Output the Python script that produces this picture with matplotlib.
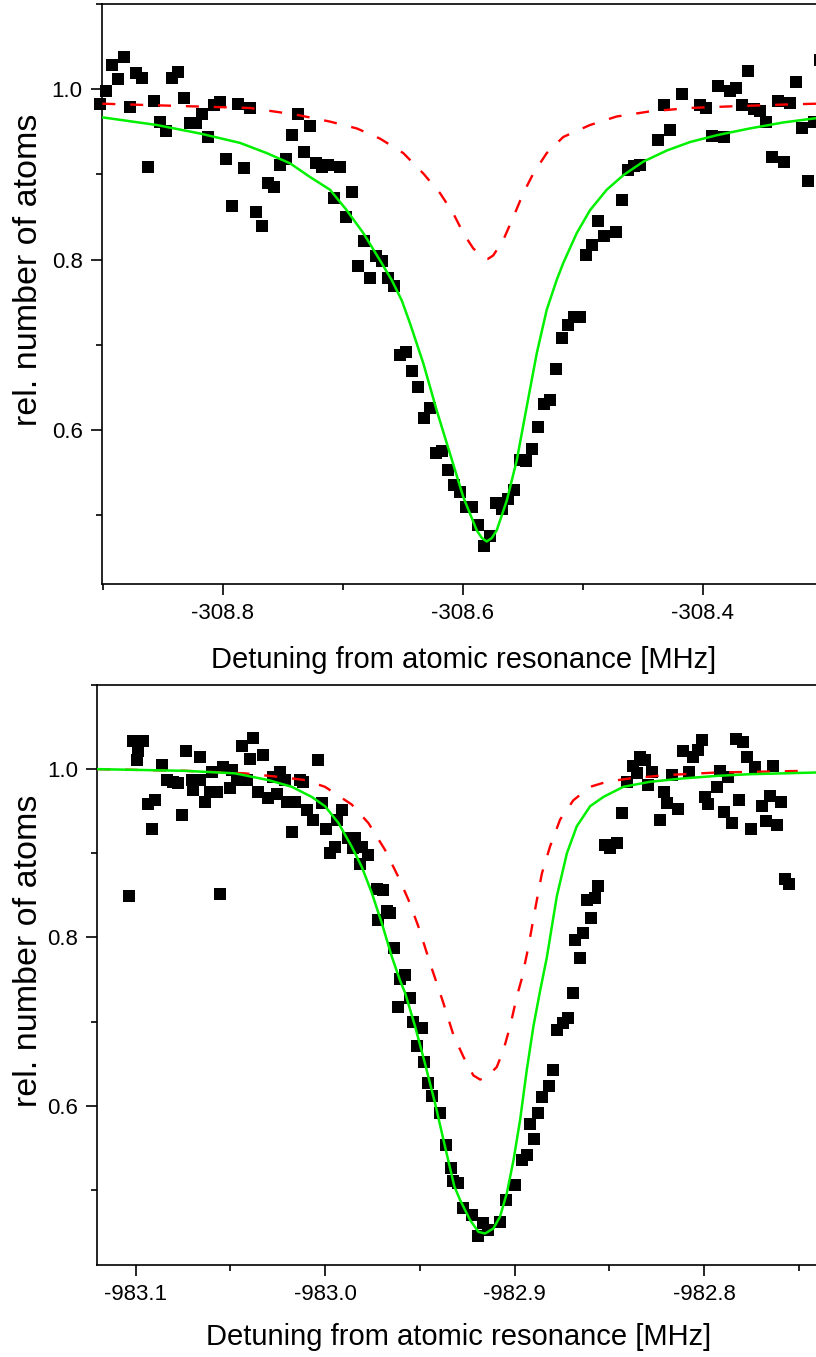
import matplotlib
matplotlib.use('Agg')
import matplotlib.pyplot as plt
from matplotlib.ticker import MultipleLocator, StrMethodFormatter

plt.rcParams['font.family'] = ['Liberation Sans', 'DejaVu Sans']
plt.rcParams['axes.unicode_minus'] = False

# ---- upper scan (around -308.6 MHz) ----
top_detuning = [
    -308.9025, -308.8975, -308.8925, -308.8875, -308.8825, -308.8775, -308.8725, -308.8675,
    -308.8625, -308.8575, -308.8525, -308.8475, -308.8425, -308.8375, -308.8325, -308.8275,
    -308.8225, -308.8175, -308.8125, -308.8075, -308.8025, -308.7975, -308.7925, -308.7875,
    -308.7825, -308.7775, -308.7725, -308.7675, -308.7625, -308.7575, -308.7525, -308.7475,
    -308.7425, -308.7375, -308.7325, -308.7275, -308.7225, -308.7175, -308.7125, -308.7075,
    -308.7025, -308.6975, -308.6925, -308.6875, -308.6825, -308.6775, -308.6725, -308.6675,
    -308.6625, -308.6575, -308.6525, -308.6475, -308.6425, -308.6375, -308.6325, -308.6275,
    -308.6225, -308.6175, -308.6125, -308.6075, -308.6025, -308.5975, -308.5925, -308.5875,
    -308.5825, -308.5775, -308.5725, -308.5675, -308.5625, -308.5575, -308.5525, -308.5475,
    -308.5425, -308.5375, -308.5325, -308.5275, -308.5225, -308.5175, -308.5125, -308.5075,
    -308.5025, -308.4975, -308.4925, -308.4875, -308.4825, -308.4725, -308.4675, -308.4625,
    -308.4575, -308.4525, -308.4375, -308.4325, -308.4275, -308.4175, -308.4025, -308.3975,
    -308.3925, -308.3875, -308.3825, -308.3775, -308.3725, -308.3675, -308.3625, -308.3575,
    -308.3525, -308.3475, -308.3425, -308.3375, -308.3325, -308.3275, -308.3225, -308.3175,
    -308.3125, -308.3075, -308.3025,
]
top_atoms = [
    0.983, 0.998, 1.029, 1.012, 1.038, 0.979, 1.019, 1.013,
    0.909, 0.986, 0.961, 0.951, 1.013, 1.020, 0.990, 0.960,
    0.960, 0.971, 0.944, 0.982, 0.985, 0.918, 0.863, 0.983,
    0.907, 0.978, 0.856, 0.839, 0.890, 0.885, 0.911, 0.918,
    0.946, 0.971, 0.926, 0.957, 0.913, 0.909, 0.911, 0.872,
    0.909, 0.850, 0.879, 0.793, 0.822, 0.778, 0.804, 0.798,
    0.778, 0.769, 0.688, 0.692, 0.669, 0.650, 0.614, 0.626,
    0.573, 0.575, 0.553, 0.535, 0.527, 0.509, 0.510, 0.488,
    0.464, 0.476, 0.514, 0.507, 0.519, 0.529, 0.565, 0.563,
    0.578, 0.603, 0.631, 0.635, 0.672, 0.708, 0.723, 0.732,
    0.732, 0.805, 0.817, 0.845, 0.828, 0.832, 0.870, 0.905,
    0.910, 0.911, 0.940, 0.982, 0.952, 0.994, 0.981, 0.978,
    0.945, 1.004, 0.944, 0.998, 1.001, 0.982, 1.021, 0.977,
    0.975, 0.961, 0.920, 0.986, 0.914, 0.984, 1.008, 0.954,
    0.892, 0.961, 1.034,
]
top_fit_x = [
    -308.9003, -308.855, -308.8189, -308.7856, -308.7633, -308.7439, -308.7273, -308.7106,
    -308.6967, -308.6828, -308.6689, -308.6592, -308.6508, -308.6439, -308.6328, -308.6217,
    -308.6106, -308.5995, -308.5883, -308.5840, -308.5800, -308.5758, -308.5717, -308.5633,
    -308.555, -308.5467, -308.5383, -308.53, -308.5217, -308.5162, -308.505, -308.4939,
    -308.48, -308.4662, -308.4495, -308.43, -308.4106, -308.3883, -308.3606, -308.3328,
    -308.3056,
]
top_fit_y = [
    0.967, 0.958, 0.948, 0.937, 0.925, 0.913, 0.897, 0.882,
    0.858, 0.831, 0.799, 0.776, 0.752, 0.725, 0.678, 0.623,
    0.572, 0.521, 0.482, 0.473, 0.469, 0.473, 0.482, 0.517,
    0.564, 0.627, 0.690, 0.741, 0.776, 0.796, 0.831, 0.858,
    0.882, 0.899, 0.915, 0.928, 0.938, 0.946, 0.954, 0.961,
    0.966,
]
top_model_x = [
    -308.9003, -308.8273, -308.7773, -308.7383, -308.7106, -308.6883, -308.6689, -308.6495,
    -308.6328, -308.6189, -308.6078, -308.5995, -308.5912, -308.5828, -308.5787, -308.5745,
    -308.5662, -308.5578, -308.5495, -308.5412, -308.53, -308.5162, -308.4939, -308.4717,
    -308.4439, -308.4106, -308.3745, -308.3328, -308.3056,
]
top_model_y = [
    0.983, 0.980, 0.978, 0.970, 0.962, 0.954, 0.942, 0.925,
    0.901, 0.878, 0.854, 0.831, 0.813, 0.803, 0.801, 0.805,
    0.823, 0.850, 0.878, 0.901, 0.925, 0.944, 0.958, 0.968,
    0.974, 0.978, 0.980, 0.982, 0.983,
]

# ---- lower scan (around -982.9 MHz) ----
bottom_detuning = [
    -983.1035, -983.1013, -983.0960, -983.0986, -983.0995, -983.0933, -983.0898, -983.0916,
    -983.0863, -983.0836, -983.0801, -983.0775, -983.0757, -983.0736, -983.0704, -983.0696,
    -983.0661, -983.0661, -983.0634, -983.0608, -983.0599, -983.0572, -983.0555, -983.0537,
    -983.0502, -983.0493, -983.0467, -983.0440, -983.0414, -983.0397, -983.0379, -983.0353,
    -983.0326, -983.0300, -983.0274, -983.0256, -983.0238, -983.0212, -983.0203, -983.0176,
    -983.0159, -983.0133, -983.0115, -983.0097, -983.0062, -983.0036, -983.0018, -982.9997,
    -982.9974, -982.9939, -982.9912, -982.9948, -982.9878, -982.9842, -982.9851, -982.9807,
    -982.9772, -982.9816, -982.9728, -982.9693, -982.9675, -982.9719, -982.9657, -982.9635,
    -982.9578, -982.9605, -982.9552, -982.9617, -982.9534, -982.9490, -982.9513, -982.9476,
    -982.9455, -982.9434, -982.9393, -982.9363, -982.9335, -982.9323, -982.9297, -982.9270,
    -982.9226, -982.9191, -982.9165, -982.9138, -982.9077, -982.9045, -982.8997, -982.8962,
    -982.8932, -982.8897, -982.8918, -982.8874, -982.8856, -982.8816, -982.8795, -982.8777,
    -982.8742, -982.8716, -982.8693, -982.8654, -982.8681, -982.8637, -982.8596, -982.8616,
    -982.8575, -982.8558, -982.8522, -982.8496, -982.8460, -982.8434, -982.8408, -982.8376,
    -982.8337, -982.8311, -982.8355, -982.8294, -982.8276, -982.8235, -982.8214, -982.8193,
    -982.8170, -982.8135, -982.8112, -982.8082, -982.8056, -982.8012, -982.8030, -982.7994,
    -982.7977, -982.7932, -982.7915, -982.7894, -982.7871, -982.7853, -982.7830, -982.7813,
    -982.7795, -982.7774, -982.7753, -982.7730, -982.7695, -982.7672, -982.7651, -982.7634,
    -982.7616, -982.7593, -982.7572, -982.7554,
]
bottom_atoms = [
    0.849, 1.034, 1.034, 1.021, 1.011, 0.959, 0.963, 0.929,
    1.005, 0.987, 0.985, 0.983, 0.946, 1.021, 0.987, 0.975,
    1.015, 0.987, 0.961, 0.973, 0.997, 0.973, 0.851, 1.003,
    0.977, 0.999, 0.987, 1.027, 0.987, 1.012, 1.037, 0.973,
    1.017, 0.966, 0.991, 0.971, 0.997, 0.987, 0.961, 0.925,
    0.961, 0.987, 0.985, 0.952, 0.940, 1.011, 0.960, 0.929,
    0.900, 0.940, 0.951, 0.908, 0.918, 0.918, 0.906, 0.908,
    0.898, 0.887, 0.858, 0.856, 0.831, 0.821, 0.829, 0.787,
    0.755, 0.751, 0.728, 0.717, 0.700, 0.692, 0.671, 0.652,
    0.627, 0.611, 0.591, 0.553, 0.526, 0.510, 0.508, 0.478,
    0.470, 0.445, 0.460, 0.452, 0.462, 0.488, 0.506, 0.535,
    0.541, 0.560, 0.578, 0.591, 0.610, 0.623, 0.642, 0.690,
    0.698, 0.704, 0.734, 0.775, 0.797, 0.805, 0.823, 0.845,
    0.847, 0.861, 0.910, 0.906, 0.912, 0.948, 0.985, 1.004,
    1.015, 1.011, 0.995, 0.981, 0.997, 0.939, 0.973, 0.960,
    0.993, 0.953, 1.021, 0.997, 1.015, 1.035, 1.023, 0.967,
    0.959, 0.979, 0.998, 0.949, 0.991, 0.936, 1.036, 0.963,
    1.032, 1.014, 0.929, 1.002, 0.956, 0.938, 0.968, 1.004,
    0.934, 0.961, 0.870, 0.864,
]
bottom_fit_x = [
    -983.1203, -983.0740, -983.0476, -983.0300, -983.0176, -983.0071, -983.0001, -982.9930,
    -982.9860, -982.9807, -982.9754, -982.9701, -982.9648, -982.9605, -982.9578, -982.9525,
    -982.9473, -982.9420, -982.9367, -982.9318, -982.9288, -982.9235, -982.9191, -982.9156,
    -982.9112, -982.9077, -982.9041, -982.9006, -982.8971, -982.8936, -982.8901, -982.8865,
    -982.8830, -982.8804, -982.8777, -982.8724, -982.8672, -982.8601, -982.8531, -982.8426,
    -982.8285, -982.8109, -982.7932, -982.7757, -982.7581, -982.7408,
]
bottom_fit_y = [
    1.000, 0.998, 0.995, 0.987, 0.979, 0.967, 0.956, 0.936,
    0.908, 0.884, 0.853, 0.817, 0.777, 0.749, 0.734, 0.694,
    0.650, 0.603, 0.551, 0.504, 0.488, 0.464, 0.450, 0.448,
    0.454, 0.468, 0.496, 0.535, 0.583, 0.642, 0.694, 0.737,
    0.776, 0.812, 0.849, 0.900, 0.932, 0.956, 0.967, 0.979,
    0.985, 0.989, 0.992, 0.994, 0.995, 0.996,
]
bottom_model_x = [
    -983.1203, -983.0740, -983.0423, -983.0212, -983.0106, -983.0001, -982.9860, -982.9772,
    -982.9684, -982.9614, -982.9561, -982.9508, -982.9437, -982.9376, -982.9323, -982.9270,
    -982.9218, -982.9182, -982.9147, -982.9094, -982.9059, -982.9024, -982.8988, -982.8962,
    -982.8927, -982.8892, -982.8856, -982.8813, -982.8760, -982.8690, -982.8601, -982.8513,
    -982.8390, -982.8196, -982.7932, -982.7461,
]
bottom_model_y = [
    1.000, 0.998, 0.995, 0.990, 0.987, 0.979, 0.958, 0.936,
    0.904, 0.872, 0.845, 0.813, 0.763, 0.722, 0.684, 0.658,
    0.636, 0.631, 0.634, 0.646, 0.666, 0.694, 0.730, 0.751,
    0.789, 0.833, 0.876, 0.908, 0.940, 0.963, 0.979, 0.985,
    0.989, 0.993, 0.996, 0.998,
]


def draw_panel(ax, x, y, fx, fy, mx, my, xlim, ylim, xmajor, xminor, label_pos):
    ax.plot(x, y, 's', color='black', ms=8.8, mew=0, clip_on=False, zorder=3)
    ax.plot(mx, my, color='#ff0000', lw=1.7, dashes=(5.5, 6.3), zorder=4)
    ax.plot(fx, fy, color='#00f000', lw=1.8, zorder=5)

    ax.set_xlim(*xlim)
    ax.set_ylim(*ylim)
    ax.spines['right'].set_visible(False)
    for side in ['left', 'top', 'bottom']:
        ax.spines[side].set_linewidth(1.2)

    ax.xaxis.set_major_locator(MultipleLocator(xmajor))
    ax.xaxis.set_minor_locator(MultipleLocator(xminor))
    ax.yaxis.set_major_locator(MultipleLocator(0.2))
    ax.yaxis.set_minor_locator(MultipleLocator(0.1))
    ax.xaxis.set_major_formatter(StrMethodFormatter('{x:.1f}'))
    ax.yaxis.set_major_formatter(StrMethodFormatter('{x:.1f}'))
    ax.tick_params(which='major', direction='out', length=8, width=1.2,
                   labelsize=16, pad=6)
    ax.tick_params(which='minor', direction='out', length=4.5, width=1.2)

    ax.set_xlabel('Detuning from atomic resonance [MHz]', fontsize=21)
    ax.set_ylabel('rel. number of atoms', fontsize=24.5)
    ax.xaxis.set_label_coords(label_pos[0], label_pos[1])
    ax.yaxis.set_label_coords(label_pos[2], label_pos[3])


fig = plt.figure(figsize=(8.16, 13.57), dpi=100)
ax_top = fig.add_axes([0.125, 0.5696, 0.875, 0.4274])
ax_bot = fig.add_axes([0.1192, 0.0678, 0.8808, 0.4274])

draw_panel(ax_top, top_detuning, top_atoms, top_fit_x, top_fit_y, top_model_x, top_model_y,
           (-308.9006, -308.3056), (0.419, 1.1), 0.2, 0.1, (0.507, -0.107, -0.081, 0.541))
draw_panel(ax_bot, bottom_detuning, bottom_atoms, bottom_fit_x, bottom_fit_y,
           bottom_model_x, bottom_model_y,
           (-983.1203, -982.7409), (0.4106, 1.1), 0.1, 0.05, (0.503, -0.1, -0.074, 0.541))

fig.savefig('out.png', dpi=100)
